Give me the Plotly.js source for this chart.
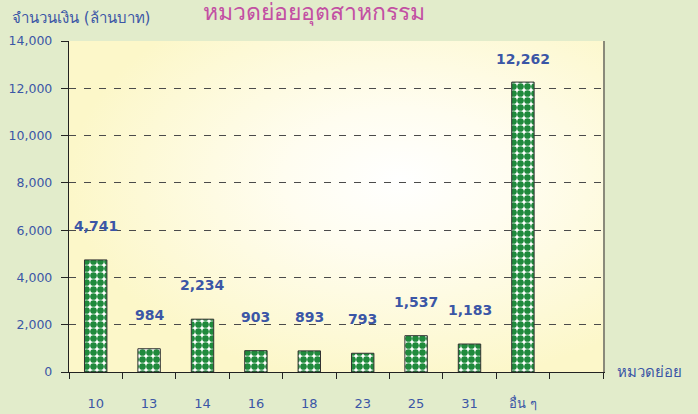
<!DOCTYPE html>
<html>
<head>
<meta charset="utf-8">
<script src="https://cdn.plot.ly/plotly-3.0.1.min.js"></script>
<style>html,body{margin:0;padding:0;background:#e2eccb;}#chart{width:698px;height:414px;}</style>
</head>
<body>
<div id="chart"></div>
<script>
var categories = ["10", "13", "14", "16", "18", "23", "25", "31", "อื่น ๆ"];
var values = [4741, 984, 2234, 903, 893, 793, 1537, 1183, 12262];
var valueLabels = ["4,741", "984", "2,234", "903", "893", "793", "1,537", "1,183", "12,262"];
var yTickVals = [0, 2000, 4000, 6000, 8000, 10000, 12000, 14000];
var yTickText = ["0", "2,000", "4,000", "6,000", "8,000", "10,000", "12,000", "14,000"];
var chartTitle = "หมวดย่อยอุตสาหกรรม";
var yTitle = "จำนวนเงิน (ล้านบาท)";
var xTitle = "หมวดย่อย";

var blue = "#3b56a6";
var thaiFont = "Tahoma, 'DejaVu Sans', 'Noto Sans', sans-serif";
var xs = categories.map(function (c, i) { return i; });
var yMax = 14000;
var plotH = 414 - 41 - 42;
var unitsPerPx = yMax / plotH;

var gradSvg = '<svg xmlns="http://www.w3.org/2000/svg" width="534" height="331" viewBox="0 0 534 331" preserveAspectRatio="none">' +
  '<defs><radialGradient id="g" cx="0.62" cy="0.42" r="0.62" gradientUnits="objectBoundingBox">' +
  '<stop offset="0" stop-color="#ffffff"/><stop offset="0.35" stop-color="#fffdf0"/><stop offset="1" stop-color="#fcf7c9"/>' +
  '</radialGradient></defs><rect width="534" height="331" fill="url(#g)"/></svg>';
var gradUrl = "data:image/svg+xml;charset=utf-8," + encodeURIComponent(gradSvg);

var trace = {
  type: "bar",
  x: xs,
  y: values,
  width: 0.42,
  marker: {
    color: "#1f8a3c",
    line: { color: "#333333", width: 1 },
    pattern: { shape: ".", bgcolor: "#ffffff", fgcolor: "#1f8a3c", size: 7, solidity: 0.72, fillmode: "replace" }
  },
  hoverinfo: "none",
  showlegend: false
};

// Labels sit ~34px above the bar top, but are kept inside the plot area (as Excel does).
var annotations = values.map(function (v, i) {
  var yc = Math.min(v + 34 * unitsPerPx, yMax - 18 * unitsPerPx);
  return {
    x: xs[i], y: yc, xref: "x", yref: "y", text: valueLabels[i], showarrow: false,
    yanchor: "middle",
    font: { family: "'DejaVu Sans', Verdana, sans-serif", size: 14, color: blue, weight: "bold" }
  };
});
annotations.push({
  xref: "paper", yref: "paper", x: -0.11, y: 1.0, xanchor: "left", yanchor: "bottom", yshift: 12,
  text: yTitle, showarrow: false, font: { family: thaiFont, size: 15, color: blue }
});
annotations.push({
  xref: "paper", yref: "y", x: 1.0, y: 0, xanchor: "left", yanchor: "middle", xshift: 12,
  text: xTitle, showarrow: false, font: { family: thaiFont, size: 15, color: blue }
});

var layout = {
  width: 698, height: 414,
  margin: { l: 69, r: 95, t: 41, b: 42, pad: 0 },
  paper_bgcolor: "#e2eccb",
  plot_bgcolor: "#fcf7c9",
  title: {
    text: chartTitle, x: 0.45, xanchor: "center", y: 1 - 4 / 414, yanchor: "top", yref: "container",
    pad: { t: 0, b: 0 },
    font: { family: thaiFont, size: 23, color: "#c24fa3" }
  },
  xaxis: {
    range: [-0.5, 9.5],
    tickvals: xs, ticktext: categories,
    ticks: "", ticklabelstandoff: 19,
    tickfont: { family: thaiFont, size: 13, color: blue },
    showgrid: false, zeroline: false,
    showline: true, linecolor: "#222", linewidth: 1.2,
    minor: { tick0: 0.5, dtick: 1, ticks: "outside", ticklen: 6, tickcolor: "#222", tickwidth: 1, showgrid: false },
    fixedrange: true
  },
  yaxis: {
    range: [0, yMax],
    tickvals: yTickVals, ticktext: yTickText,
    ticks: "outside", ticklen: 7, tickcolor: "#222", ticklabelstandoff: 6,
    tickfont: { family: "'DejaVu Sans', Verdana, sans-serif", size: 12.5, color: blue },
    showgrid: true, gridcolor: "#4a4a4a", griddash: "7px,8px", gridwidth: 1,
    zeroline: false,
    showline: true, linecolor: "#222", linewidth: 1.2,
    fixedrange: true
  },
  yaxis2: {
    overlaying: "y", side: "right", range: [0, yMax],
    showline: true, linecolor: "#8a8a7a", linewidth: 1.5,
    showticklabels: false, ticks: "", showgrid: false, zeroline: false, fixedrange: true
  },
  images: [{
    source: gradUrl, xref: "paper", yref: "paper", x: 0, y: 1, sizex: 1, sizey: 1,
    xanchor: "left", yanchor: "top", sizing: "stretch", layer: "below"
  }],
  annotations: annotations,
  bargap: 0.58
};

var dummy = { type: "scatter", x: [0], y: [0], yaxis: "y2", mode: "none", hoverinfo: "none", showlegend: false };

Plotly.newPlot("chart", [trace, dummy], layout, { displayModeBar: false, staticPlot: true });
</script>
</body>
</html>
